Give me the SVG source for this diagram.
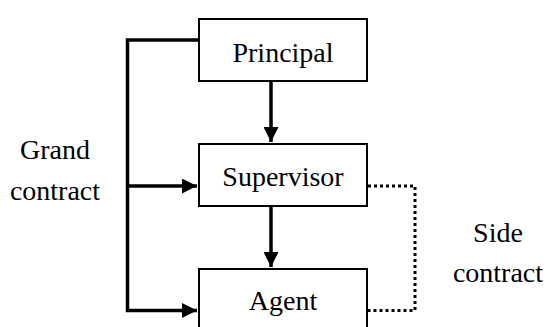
<svg xmlns="http://www.w3.org/2000/svg" width="547" height="327" viewBox="0 0 547 327">
<style>
.box{fill:#fff;stroke:#000;stroke-width:2}
.lbl{font-family:"Liberation Serif","Times New Roman",serif;font-size:28px;fill:#000;text-anchor:middle}
.ln{fill:none;stroke:#000;stroke-width:3.5}
.dot{fill:none;stroke:#000;stroke-width:3;stroke-dasharray:3 3}
</style>
<defs>
<marker id="ah" viewBox="0 0 10 10" refX="10" refY="5" markerWidth="16" markerHeight="15" markerUnits="userSpaceOnUse" orient="auto">
<path d="M0,0 L10,5 L0,10 Z" fill="#000"/>
</marker>
</defs>
<rect width="547" height="327" fill="#fff"/>
<g id="connectors">
<path class="ln" d="M199,40 H127.5 V310.5 H197" marker-end="url(#ah)"/>
<path class="ln" d="M127.5,186 H197" marker-end="url(#ah)"/>
<path class="ln" d="M271,81 V142" marker-end="url(#ah)"/>
<path class="ln" d="M271,206 V267" marker-end="url(#ah)"/>
<path class="dot" d="M368,186 H415 V310.5 H368"/>
</g>
<g id="principal">
<rect class="box" x="199" y="19" width="168" height="62"/>
<text class="lbl" x="283" y="62">Principal</text>
</g>
<g id="supervisor">
<rect class="box" x="199" y="144" width="168" height="62"/>
<text class="lbl" x="283" y="186">Supervisor</text>
</g>
<g id="agent">
<rect class="box" x="199" y="269" width="168" height="62"/>
<text class="lbl" x="283" y="310">Agent</text>
</g>
<g id="grand-contract">
<text class="lbl" x="55" y="159">Grand</text>
<text class="lbl" x="55" y="200">contract</text>
</g>
<g id="side-contract">
<text class="lbl" x="498" y="242">Side</text>
<text class="lbl" x="498" y="282">contract</text>
</g>
</svg>
